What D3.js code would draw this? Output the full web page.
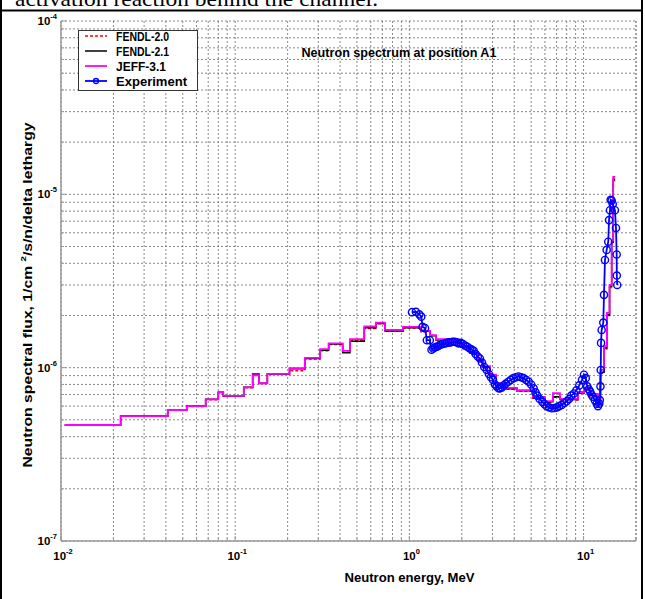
<!DOCTYPE html>
<html><head><meta charset="utf-8">
<script src="https://cdn.jsdelivr.net/npm/d3@7"></script>
<style>body{margin:0;background:#fff}svg{display:block}</style>
</head><body>
<svg id="chart" width="645" height="599"></svg>
<script>
// Group-structure bin edges (MeV) shared by the calculated spectra
const binEdges = [0.0105, 0.022, 0.041, 0.0527, 0.0677, 0.080, 0.0855, 0.112, 0.126, 0.137,
  0.153, 0.205, 0.251, 0.307, 0.344, 0.414, 0.456, 0.551, 0.643, 0.724,
  0.919, 1.166, 1.313, 1.421, 1.666, 1.978, 2.228, 2.476, 2.646, 2.902,
  3.14, 3.54, 4.15, 5.12, 6.0, 6.67, 7.32, 9.29, 10.05, 10.88,
  12.09, 12.5, 13.1, 13.6, 14.1, 14.5, 14.8, 15.2];

// Calculated group fluxes, 1/cm2/s/n per unit lethargy
const jeff31 = [4.67e-7, 5.26e-7, 5.70e-7, 6.00e-7, 6.57e-7, 7.24e-7, 6.87e-7, 7.70e-7, 9.04e-7, 8.13e-7,
  9.20e-7, 9.92e-7, 1.14e-6, 1.28e-6, 1.38e-6, 1.25e-6, 1.46e-6, 1.73e-6, 1.82e-6, 1.65e-6,
  1.72e-6, 1.63e-6, 1.54e-6, 1.46e-6, 1.43e-6, 1.33e-6, 1.23e-6, 1.11e-6, 1.02e-6, 9.10e-7,
  8.16e-7, 7.64e-7, 7.43e-7, 6.78e-7, 6.42e-7, 7.14e-7, 6.60e-7, 7.24e-7, 7.64e-7, 7.05e-7,
  6.34e-7, 9.70e-7, 1.33e-6, 2.07e-6, 3.00e-6, 5.40e-6, 1.26e-5];
const fendl21 = [4.67e-7, 5.26e-7, 5.70e-7, 6.00e-7, 6.57e-7, 7.20e-7, 6.87e-7, 7.70e-7, 9.20e-7, 8.13e-7,
  9.20e-7, 9.85e-7, 1.13e-6, 1.26e-6, 1.37e-6, 1.22e-6, 1.42e-6, 1.70e-6, 1.80e-6, 1.63e-6,
  1.70e-6, 1.62e-6, 1.53e-6, 1.45e-6, 1.42e-6, 1.32e-6, 1.22e-6, 1.10e-6, 1.01e-6, 9.00e-7,
  8.10e-7, 7.55e-7, 7.35e-7, 6.70e-7, 6.35e-7, 6.80e-7, 6.55e-7, 7.15e-7, 7.55e-7, 6.90e-7,
  6.25e-7, 9.40e-7, 1.30e-6, 2.02e-6, 2.95e-6, 5.30e-6, 1.22e-5];
const fendl20 = [4.65e-7, 5.24e-7, 5.68e-7, 5.97e-7, 6.52e-7, 7.18e-7, 6.84e-7, 7.65e-7, 9.10e-7, 8.10e-7,
  9.15e-7, 9.60e-7, 1.12e-6, 1.25e-6, 1.36e-6, 1.23e-6, 1.43e-6, 1.68e-6, 1.79e-6, 1.62e-6,
  1.69e-6, 1.61e-6, 1.52e-6, 1.44e-6, 1.41e-6, 1.31e-6, 1.21e-6, 1.09e-6, 1.00e-6, 8.95e-7,
  8.05e-7, 7.50e-7, 7.30e-7, 6.65e-7, 6.30e-7, 6.75e-7, 6.50e-7, 7.10e-7, 7.50e-7, 6.85e-7,
  6.20e-7, 9.30e-7, 1.28e-6, 2.00e-6, 2.90e-6, 5.20e-6, 1.20e-5];

// Measured spectrum
const expEnergy = [1.035, 1.09, 1.14, 1.17, 1.19, 1.23, 1.26, 1.31, 1.34, 1.37,
  1.40, 1.43, 1.46, 1.49, 1.52, 1.56, 1.60, 1.64, 1.68, 1.72,
  1.77, 1.82, 1.87, 1.92, 1.97, 2.03, 2.09, 2.15, 2.22, 2.28,
  2.34, 2.40, 2.47, 2.54, 2.61, 2.69, 2.78, 2.86, 2.94, 3.02,
  3.10, 3.17, 3.25, 3.32, 3.40, 3.48, 3.58, 3.70, 3.82, 3.96,
  4.10, 4.23, 4.38, 4.52, 4.68, 4.84, 5.00, 5.17, 5.30, 5.42,
  5.60, 5.80, 5.97, 6.14, 6.35, 6.57, 6.80, 7.03, 7.25, 7.50,
  7.75, 8.00, 8.25, 8.50, 8.80, 9.10, 9.45, 9.80, 10.05, 10.3,
  10.5, 10.7, 10.9, 11.1, 11.3, 11.6, 11.9, 12.1, 12.3, 12.4,
  12.5, 12.55, 12.6, 12.7, 12.98, 13.1, 13.27, 13.57, 13.86, 14.0,
  14.18, 14.31, 14.5, 14.7, 15.14, 15.35, 15.49, 15.52, 15.6];
const expFlux = [2.09e-6, 2.10e-6, 2.03e-6, 1.97e-6, 1.72e-6, 1.69e-6, 1.44e-6, 1.44e-6, 1.27e-6, 1.29e-6,
  1.31e-6, 1.32e-6, 1.33e-6, 1.35e-6, 1.36e-6, 1.37e-6, 1.38e-6, 1.39e-6, 1.40e-6, 1.40e-6,
  1.41e-6, 1.41e-6, 1.40e-6, 1.38e-6, 1.39e-6, 1.37e-6, 1.34e-6, 1.32e-6, 1.29e-6, 1.27e-6,
  1.25e-6, 1.20e-6, 1.16e-6, 1.13e-6, 1.07e-6, 1.01e-6, 9.7e-7, 9.2e-7, 8.8e-7, 8.5e-7,
  8.0e-7, 7.8e-7, 7.6e-7, 7.6e-7, 7.7e-7, 7.9e-7, 8.1e-7, 8.3e-7, 8.5e-7, 8.7e-7,
  8.8e-7, 8.9e-7, 8.8e-7, 8.7e-7, 8.5e-7, 8.3e-7, 8.0e-7, 7.6e-7, 7.2e-7, 6.9e-7,
  6.6e-7, 6.35e-7, 6.15e-7, 6.0e-7, 5.9e-7, 5.83e-7, 5.85e-7, 5.9e-7, 6.0e-7, 6.1e-7,
  6.25e-7, 6.4e-7, 6.6e-7, 6.9e-7, 7.1e-7, 7.4e-7, 7.9e-7, 8.5e-7, 9.1e-7, 8.7e-7,
  7.8e-7, 7.5e-7, 7.3e-7, 7.0e-7, 6.8e-7, 6.5e-7, 6.2e-7, 6.0e-7, 6.2e-7, 6.5e-7,
  7.8e-7, 9.7e-7, 1.39e-6, 1.65e-6, 1.82e-6, 2.63e-6, 4.18e-6, 4.78e-6, 5.33e-6, 7.1e-6,
  8.1e-6, 9.3e-6, 9.2e-6, 8.8e-6, 8.1e-6, 6.4e-6, 4.5e-6, 3.4e-6, 3.0e-6];

const xTickExps = [-2, -1, 0, 1];
const yTickExps = [-7, -6, -5, -4];
const legendLabels = ["FENDL-2.0", "FENDL-2.1", "JEFF-3.1", "Experiment"];
const captionText = "activation reaction behind the channel.";
const plotTitle = "Neutron spectrum at position A1";
const xTitle = "Neutron energy, MeV";

const svg = d3.select("#chart");
const FONT = "'Liberation Sans', Arial, sans-serif";

svg.append("rect").attr("width", 645).attr("height", 599).attr("fill", "#fff");

// Caption row of the surrounding table
svg.append("text").attr("x", 15).attr("y", 6)
  .attr("font-family", "'Liberation Serif', 'Times New Roman', serif")
  .attr("font-size", 22).attr("textLength", 363).attr("lengthAdjust", "spacingAndGlyphs")
  .text(captionText);
svg.append("line").attr("x1", 0).attr("x2", 643).attr("y1", 10.5).attr("y2", 10.5)
  .attr("stroke", "#000").attr("stroke-width", 2);
svg.append("line").attr("x1", 1).attr("x2", 1).attr("y1", 0).attr("y2", 599)
  .attr("stroke", "#000").attr("stroke-width", 2);
svg.append("line").attr("x1", 642).attr("x2", 642).attr("y1", 0).attr("y2", 599)
  .attr("stroke", "#000").attr("stroke-width", 2);

const x = d3.scaleLog().domain([0.01, 20]).range([61, 636]);
const y = d3.scaleLog().domain([1e-7, 1e-4]).range([541, 21]);

// Grid values: every 1..9 multiple inside the domain
const xGrid = [];
for (let e = -2; e <= 1; e++) for (let k = 1; k <= 9; k++) {
  const v = k * Math.pow(10, e); if (v <= 20.0001) xGrid.push(v);
}
xGrid.push(20);
const yGrid = [];
for (let e = -7; e <= -5; e++) for (let k = 1; k <= 9; k++) yGrid.push(k * Math.pow(10, e));
yGrid.push(1e-4);

const grid = svg.append("g").attr("stroke", "#6a6a6a").attr("stroke-width", 0.8)
  .attr("stroke-dasharray", "2,2");
grid.selectAll(".gx").data(xGrid).join("line")
  .attr("x1", d => x(d)).attr("x2", d => x(d)).attr("y1", y(1e-4)).attr("y2", y(1e-7));
grid.selectAll(".gy").data(yGrid).join("line")
  .attr("y1", d => y(d)).attr("y2", d => y(d)).attr("x1", x(0.01)).attr("x2", x(20));

// Axis lines and inward ticks
const isDecade = d => Math.abs(Math.log10(d) - Math.round(Math.log10(d))) < 1e-9;
const axisG = svg.append("g").attr("stroke", "#9a9a9a");
axisG.append("line").attr("x1", x(0.01)).attr("x2", x(0.01)).attr("y1", y(1e-4)).attr("y2", y(1e-7)).attr("stroke-width", 1.5);
axisG.append("line").attr("x1", x(0.01)).attr("x2", x(20)).attr("y1", y(1e-7)).attr("y2", y(1e-7)).attr("stroke-width", 1.5);
axisG.selectAll(".ty").data(yGrid).join("line")
  .attr("x1", x(0.01)).attr("x2", d => x(0.01) + (isDecade(d) ? 5 : 3))
  .attr("y1", d => y(d)).attr("y2", d => y(d)).attr("stroke-width", 1);
axisG.selectAll(".tx").data(xGrid).join("line")
  .attr("y1", y(1e-7)).attr("y2", d => y(1e-7) - (isDecade(d) ? 5 : 3))
  .attr("x1", d => x(d)).attr("x2", d => x(d)).attr("stroke-width", 1);

// Power-of-ten tick labels
function powLabel(exp, anchor) {
  const t = svg.append("text").attr("font-family", FONT).attr("font-weight", "bold")
    .attr("font-size", 11.5).attr("fill", "#000").attr("text-anchor", anchor);
  t.append("tspan").text("10");
  t.append("tspan").attr("font-size", 7.5).attr("dy", -6).text(exp);
  return t;
}
xTickExps.forEach(e => {
  powLabel(e, "middle").attr("x", x(Math.pow(10, e)) + 2).attr("y", 560);
});
yTickExps.forEach(e => {
  powLabel(e, "end").attr("x", x(0.01) - 4).attr("y", y(Math.pow(10, e)) + 4);
});

// Axis titles
svg.append("text").attr("x", 409.5).attr("y", 582).attr("text-anchor", "middle")
  .attr("font-family", FONT).attr("font-weight", "bold").attr("font-size", 12.5)
  .attr("textLength", 130).attr("lengthAdjust", "spacingAndGlyphs").text(xTitle);
const yt = svg.append("text").attr("transform", "translate(32,295) rotate(-90)")
  .attr("text-anchor", "middle").attr("font-family", FONT).attr("font-weight", "bold").attr("font-size", 13)
  .attr("textLength", 345).attr("lengthAdjust", "spacingAndGlyphs");
yt.append("tspan").text("Neutron spectral flux, 1/cm ");
yt.append("tspan").attr("font-size", 8).attr("dy", -6).text("2");
yt.append("tspan").attr("dy", 6).text("/s/n/delta lethargy");

// Plot title inside the axes
svg.append("text").attr("x", 301.5).attr("y", 57).attr("font-family", FONT)
  .attr("font-weight", "bold").attr("font-size", 12.5)
  .attr("textLength", 195).attr("lengthAdjust", "spacingAndGlyphs").text(plotTitle);

// Histogram spectra
const stepPts = vals => vals.map((v, i) => [binEdges[i], v])
  .concat([[binEdges[binEdges.length - 1], vals[vals.length - 1]]]);
const stepLine = d3.line().x(d => x(d[0])).y(d => y(d[1])).curve(d3.curveStepAfter);
const series = [
  { vals: fendl20, color: "#ff0000", width: 1.3, dash: "3,2" },
  { vals: fendl21, color: "#000000", width: 1.5, dash: null },
  { vals: jeff31, color: "#ff00ff", width: 1.8, dash: null }
];
series.forEach(s => {
  svg.append("path").datum(stepPts(s.vals)).attr("d", stepLine)
    .attr("fill", "none").attr("stroke", s.color).attr("stroke-width", s.width)
    .attr("stroke-dasharray", s.dash);
});

// Experiment
const expPts = expEnergy.map((e, i) => [e, expFlux[i]]);
svg.append("path").datum(expPts)
  .attr("d", d3.line().x(d => x(d[0])).y(d => y(d[1])))
  .attr("fill", "none").attr("stroke", "#0000ff").attr("stroke-width", 1.8);
svg.append("g").selectAll("circle").data(expPts).join("circle")
  .attr("cx", d => x(d[0])).attr("cy", d => y(d[1])).attr("r", 3.6)
  .attr("fill", "none").attr("stroke", "#0000ff").attr("stroke-width", 1.4);

// Legend
const lg = svg.append("g");
lg.append("rect").attr("x", 78.5).attr("y", 30.5).attr("width", 119).attr("height", 60)
  .attr("fill", "#fff").attr("stroke", "#333").attr("stroke-width", 1);
const legendStyles = [
  { color: "#ff0000", dash: "3,2", w: 1.3, len: 53 },
  { color: "#000000", dash: null, w: 1.5, len: 53 },
  { color: "#ff00ff", dash: null, w: 1.8, len: 50 },
  { color: "#0000ff", dash: null, w: 1.8, len: 71, marker: true }
];
legendLabels.forEach((lab, i) => {
  const cy = 36 + i * 15;
  const st = legendStyles[i];
  lg.append("line").attr("x1", 85).attr("x2", 107).attr("y1", cy).attr("y2", cy)
    .attr("stroke", st.color).attr("stroke-width", st.w).attr("stroke-dasharray", st.dash);
  if (st.marker) lg.append("circle").attr("cx", 96).attr("cy", cy).attr("r", 2.5)
    .attr("fill", "none").attr("stroke", st.color).attr("stroke-width", 1.3);
  lg.append("text").attr("x", 116).attr("y", cy + 4.5).attr("font-family", FONT)
    .attr("font-weight", "bold").attr("font-size", 12)
    .attr("textLength", st.len).attr("lengthAdjust", "spacingAndGlyphs").text(lab);
});
</script>
</body></html>
